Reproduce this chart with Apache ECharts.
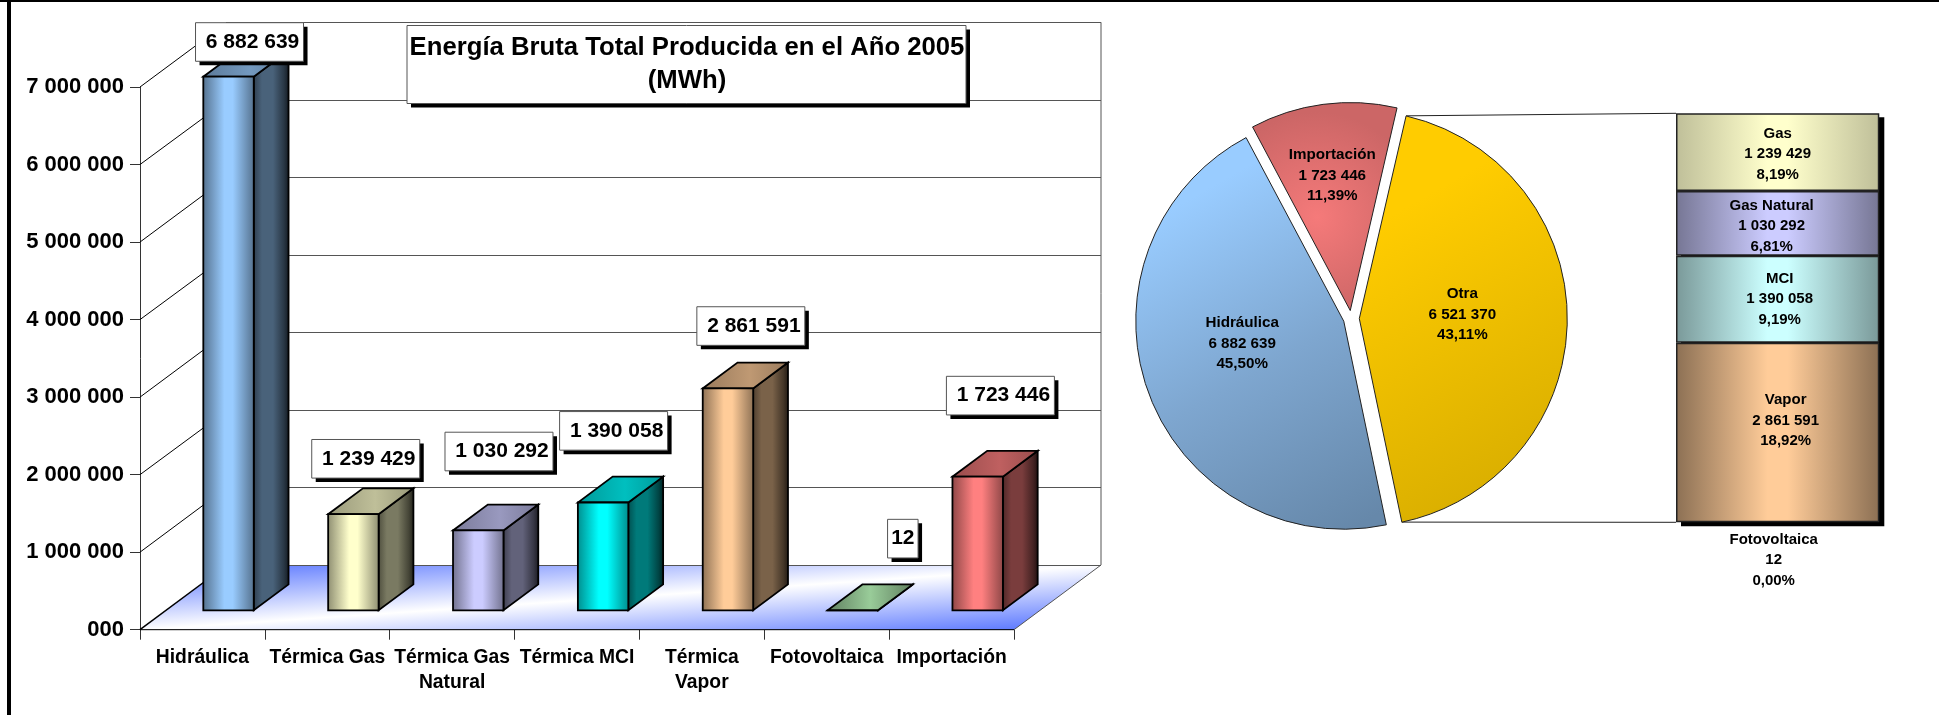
<!DOCTYPE html>
<html>
<head>
<meta charset="utf-8">
<style>html,body{margin:0;padding:0;background:#fff}#c{width:1939px;height:715px}</style>
<script src="https://cdn.jsdelivr.net/npm/echarts@6/dist/echarts.min.js"></script>
</head>
<body>
<div id="c"></div>
<script>
const categories = ['Hidráulica','Térmica Gas','Térmica Gas\nNatural','Térmica MCI','Térmica\nVapor','Fotovoltaica','Importación'];
const values = [6882639,1239429,1030292,1390058,2861591,12,1723446];
const barColors = ['#99CCFF','#FFFFCC','#CCCCFF','#00FFFF','#FFCC99','#99CC99','#FF8080'];
const yTicks = [0,1000000,2000000,3000000,4000000,5000000,6000000,7000000];
const yTickLabels = ['000','1 000 000','2 000 000','3 000 000','4 000 000','5 000 000','6 000 000','7 000 000'];
const pieNames = ['Otra','Hidráulica','Importación'];
const pieValues = [6521370,6882639,1723446];
const stackNames = ['Fotovoltaica','Vapor','MCI','Gas Natural','Gas'];
const stackValues = [12,2861591,1390058,1030292,1239429];
const stackPercents = ['0,00%','18,92%','9,19%','6,81%','8,19%'];
const titleText = 'Energía Bruta Total Producida en el Año 2005\n(MWh)';

// layout of the hand-placed value boxes, relative to each bar's front-top centre
const boxOffsets = [[21,-34.7],[12.35,-55.4],[20.75,-78.9],[10.5,-71.65],[22.9,-62.4],[50,-71.65],[22.75,-81.05]];
const FONT = '"Liberation Sans", Arial, sans-serif';
const DX = 87, DY = 64.7;            // depth of the 3D floor
const PIE = {cx:1351.3, cy:318.5, r:208, explode:8, startDeg:13};

const fmt = v => String(v).replace(/\B(?=(\d{3})+(?!\d))/g,' ');
function shade(hex,k){
  const n=parseInt(hex.slice(1),16);
  return 'rgb('+[(n>>16)&255,(n>>8)&255,n&255].map(c=>Math.round(c*k)).join(',')+')';
}
const LG = (stops,x2=1,y2=0)=>new echarts.graphic.LinearGradient(0,0,x2,y2,stops.map(s=>({offset:s[0],color:s[1]})));

function renderFloor(params,api){
  const cs=params.coordSys, y=api.coord([0,0])[1], l=cs.x, r=cs.x+cs.width;
  return {type:'group',children:[
    {type:'polygon',shape:{points:[[l,y],[r,y],[r+DX,y-DY],[l+DX,y-DY]]},
     style:{fill:new echarts.graphic.LinearGradient(616.5,538.6,624.5,656.4,[
       {offset:0,color:'#5f7bff'},{offset:.5,color:'#ffffff'},{offset:1,color:'#5f7bff'}],true)}},
    {type:'line',shape:{x1:l,y1:y,x2:l+DX,y2:y-DY},style:{stroke:'#000',lineWidth:1.5}},
    {type:'line',shape:{x1:r,y1:y,x2:r+DX,y2:y-DY},style:{stroke:'#555',lineWidth:1}},
    {type:'line',shape:{x1:l,y1:y,x2:r,y2:y},style:{stroke:'#000',lineWidth:1}},
    {type:'line',shape:{x1:r+DX,y1:y-DY,x2:r+DX,y2:api.coord([0,7000000])[1]-DY},style:{stroke:'#555',lineWidth:1}},
    {type:'line',shape:{x1:l+DX,y1:y-DY,x2:l+DX,y2:api.coord([0,7000000])[1]-DY},style:{stroke:'#555',lineWidth:1}}
  ]};
}
function renderWall(params,api){
  const cs=params.coordSys, y=Math.round(api.coord([0,api.value(1)])[1]-DY)+.5, y0=api.coord([0,api.value(1)])[1], l=cs.x, r=cs.x+cs.width;
  const kids=[{type:'line',shape:{x1:l+DX,y1:y,x2:r+DX,y2:y},style:{stroke:'#555',lineWidth:1}}];
  if(api.value(1)>0) kids.push({type:'line',shape:{x1:l,y1:y0,x2:l+DX,y2:y},style:{stroke:'#000',lineWidth:1}});
  return {type:'group',children:kids};
}
function barGeom(api){
  const i=api.value(0), band=api.size([1,0])[0], w=band*0.404;
  const base=api.coord([i,0]), top=api.coord([i,api.value(1)]);
  const x=base[0]+DX*.3-w/2, yb=base[1]-DY*.3, yt=top[1]-DY*.3;
  return {i,w,x,yb,yt,dx:DX*.4,dy:DY*.4,cx:base[0]+DX*.3};
}
function renderBar(params,api){
  const g=barGeom(api), c=barColors[g.i], R=g.x+g.w, S={stroke:'#000',lineWidth:1.8,lineJoin:'miter'};
  const flat=g.yb-g.yt<1;
  return {type:'group',children:[
    {type:'polygon',shape:{points:[[R,g.yt],[R+g.dx,g.yt-g.dy],[R+g.dx,g.yb-g.dy],[R,g.yb]]},
     style:Object.assign({fill:LG([[0,shade(c,.3)],[.25,shade(c,.48)],[.55,shade(c,.48)],[.85,shade(c,.27)],[1,shade(c,.12)]])},S)},
    {type:'polygon',shape:{points:[[g.x,g.yt],[R,g.yt],[R+g.dx,g.yt-g.dy],[g.x+g.dx,g.yt-g.dy]]},
     style:Object.assign({fill:flat?LG([[0,shade(c,.62)],[.5,c],[1,shade(c,.62)]]):LG([[0,shade(c,.6)],[.55,shade(c,.75)],[1,shade(c,.6)]])},S)},
    {type:'rect',shape:{x:g.x,y:g.yt,width:g.w,height:g.yb-g.yt},
     style:Object.assign({fill:LG([[0,shade(c,.55)],[.42,c],[.58,c],[1,shade(c,.55)]])},S)}
  ]};
}
function renderBox(params,api){
  const g=barGeom(api), off=boxOffsets[g.i], txt=fmt(api.value(1));
  const w=txt.length>3?108:30.5, h=38.6, cx=g.cx+off[0], cy=g.yt+off[1], x=cx-w/2, y=cy-h/2;
  return {type:'group',children:[
    {type:'rect',shape:{x:x+4,y:y+4,width:w,height:h},style:{fill:'#000'}},
    {type:'rect',shape:{x:x,y:y,width:w,height:h},style:{fill:'#fff',stroke:'#555',lineWidth:1}},
    {type:'text',style:{text:txt,x:cx+(txt.length>3?3:0),y:cy,align:'center',verticalAlign:'middle',
      font:'bold 21px '+FONT,fill:'#000'}}
  ]};
}
function renderStackShadow(params,api){
  const cs=params.coordSys, yTop=api.coord([0,api.value(1)])[1], yBot=api.coord([0,0])[1];
  return {type:'rect',shape:{x:cs.x+5,y:yTop+4,width:cs.width,height:yBot-yTop},style:{fill:'#000'}};
}
function sideGrad(c,edgeK){
  return LG([[0,shade(c,edgeK)],[.45,c],[.55,c],[1,shade(c,edgeK)]]);
}
const stackColors = {Fotovoltaica:['#999999',.6],Vapor:['#FFCC99',.55],MCI:['#CCFFFF',.6],'Gas Natural':['#CCCCFF',.58],Gas:['#FFFFCC',.75]};
const stackLabelOffset = {Vapor:[8,-12],MCI:[2,0],'Gas Natural':[-6,3],Gas:[0,2]};

const sliceStyles = {
  'Otra':{color:new echarts.graphic.LinearGradient(1410,200,1570,480,[{offset:0,color:'#FFCC00'},{offset:1,color:'#D6AC00'}],true)},
  'Hidráulica':{color:new echarts.graphic.LinearGradient(1190,200,1370,520,[{offset:0,color:'#99CCFF'},{offset:.5,color:'#7EA6CF'},{offset:1,color:'#6688AA'}],true)},
  'Importación':{color:new echarts.graphic.RadialGradient(1318,225,105,[{offset:0,color:'#F57A7A'},{offset:1,color:'#CC6666'}],true)}
};
const pieLabelShift = [[-4,-5],[-1,-14],[-4,-29]];

const a0=PIE.startDeg*Math.PI/180, a1=a0+pieValues[0]/pieValues.reduce((s,v)=>s+v,0)*2*Math.PI;
const oX=PIE.cx+PIE.explode;
const stackLeft=1676, stackTop=113.3, stackBottom=522.3;
const stackTotal=stackValues.reduce((s,v)=>s+v,0);

const option = {
  animation:false,
  backgroundColor:'#fff',
  textStyle:{fontFamily:FONT},
  title:{text:titleText,left:687,top:31,textAlign:'center',padding:0,z:8,
    textStyle:{fontFamily:FONT,fontWeight:'bold',fontSize:25.7,lineHeight:33.5,color:'#000'}},
  graphic:[
    {type:'rect',z:100,shape:{x:7,y:0,width:4,height:715},style:{fill:'#000'}},
    {type:'rect',z:100,shape:{x:0,y:0,width:1939,height:2},style:{fill:'#000'}},
    {type:'line',shape:{x1:oX+PIE.r*Math.sin(a0),y1:PIE.cy-PIE.r*Math.cos(a0),x2:stackLeft,y2:stackTop},style:{stroke:'#222',lineWidth:1}},
    {type:'line',shape:{x1:oX+PIE.r*Math.sin(a1),y1:PIE.cy-PIE.r*Math.cos(a1),x2:stackLeft,y2:stackBottom},style:{stroke:'#222',lineWidth:1}},
    {type:'rect',z:6,shape:{x:411,y:29.5,width:559,height:78},style:{fill:'#000'}},
    {type:'rect',z:6,shape:{x:407,y:25.5,width:559,height:78},style:{fill:'#fff',stroke:'#555',lineWidth:1}}
  ],
  grid:[
    {left:140,top:87,width:874,height:542.7},
    {left:stackLeft,top:stackTop,width:203.3,height:stackBottom-stackTop}
  ],
  xAxis:[
    {type:'category',gridIndex:0,data:categories,
     axisLine:{lineStyle:{color:'#000',width:1}},
     axisTick:{show:true,length:10,alignWithLabel:false,lineStyle:{color:'#333'}},
     axisLabel:{interval:0,hideOverlap:false,margin:16,fontFamily:FONT,fontWeight:'bold',fontSize:19.3,lineHeight:24.5,color:'#000'}},
    {type:'category',gridIndex:1,data:['Otra'],show:false}
  ],
  yAxis:[
    {type:'value',gridIndex:0,min:0,max:7000000,interval:1000000,
     axisLine:{show:true,lineStyle:{color:'#333',width:1}},
     axisTick:{show:true,length:10,lineStyle:{color:'#333'}},
     splitLine:{show:false},
     axisLabel:{margin:16,padding:[2,0,0,0],fontFamily:FONT,fontWeight:'bold',fontSize:22,color:'#000',
       formatter:v=>yTickLabels[yTicks.indexOf(v)]}},
    {type:'value',gridIndex:1,min:0,max:stackTotal,show:false,splitLine:{show:false}}
  ],
  series:[
    {type:'custom',name:'floor',xAxisIndex:0,yAxisIndex:0,z:1,silent:true,data:[[0,0]],encode:{x:0,y:1},renderItem:renderFloor},
    {type:'custom',name:'walls',xAxisIndex:0,yAxisIndex:0,z:2,silent:true,data:yTicks.map(v=>[0,v]),encode:{x:0,y:1},renderItem:renderWall},
    {type:'custom',name:'Energía',xAxisIndex:0,yAxisIndex:0,z:3,data:values.map((v,i)=>[i,v]),encode:{x:0,y:1},renderItem:renderBar},
    {type:'custom',name:'valores',xAxisIndex:0,yAxisIndex:0,z:5,silent:true,data:values.map((v,i)=>[i,v]),encode:{x:0,y:1},renderItem:renderBox},
    {type:'pie',z:3,center:[PIE.cx,PIE.cy],radius:PIE.r,startAngle:90-PIE.startDeg,clockwise:true,
     selectedMode:'multiple',selectedOffset:PIE.explode,avoidLabelOverlap:false,percentPrecision:2,
     itemStyle:{borderColor:'#222',borderWidth:1},labelLine:{show:false},
     label:{show:true,position:'inside',color:'#000',fontFamily:FONT,fontWeight:'bold',fontSize:15.2,lineHeight:20.5,
       formatter:p=>p.name+'\n'+fmt(p.value)+'\n'+p.percent.toFixed(2).replace('.',',')+'%'},
     labelLayout:p=>({dx:pieLabelShift[p.dataIndex][0],dy:pieLabelShift[p.dataIndex][1]}),
     emphasis:{scale:false},
     data:pieNames.map((n,i)=>({name:n,value:pieValues[i],selected:true,itemStyle:sliceStyles[n],
       select:{itemStyle:sliceStyles[n]}}))},
    {type:'custom',name:'sombra',xAxisIndex:1,yAxisIndex:1,z:2,silent:true,data:[[0,stackTotal]],encode:{x:0,y:1},renderItem:renderStackShadow},
    ...stackNames.map((n,i)=>{
      const st=stackColors[n], last=n==='Fotovoltaica';
      return {type:'bar',name:n,xAxisIndex:1,yAxisIndex:1,stack:'otra',barWidth:'100%',z:10-i+ (last?-5:0),
        data:[stackValues[i]],
        itemStyle:last?{color:'transparent'}:{color:sideGrad(st[0],st[1]),borderColor:'#222',borderWidth:1.5},
        label:{show:true,position:last?'bottom':'inside',distance:last?7:0,offset:last?[-4,0]:(stackLabelOffset[n]||[0,0]),
          color:'#000',fontFamily:FONT,fontWeight:'bold',fontSize:15,lineHeight:20.5,align:'center',
          formatter:()=>n+'\n'+fmt(stackValues[i])+'\n'+stackPercents[i]}};
    })
  ]
};
echarts.init(document.getElementById('c'),null,{renderer:'canvas'}).setOption(option);
</script>
</body>
</html>
